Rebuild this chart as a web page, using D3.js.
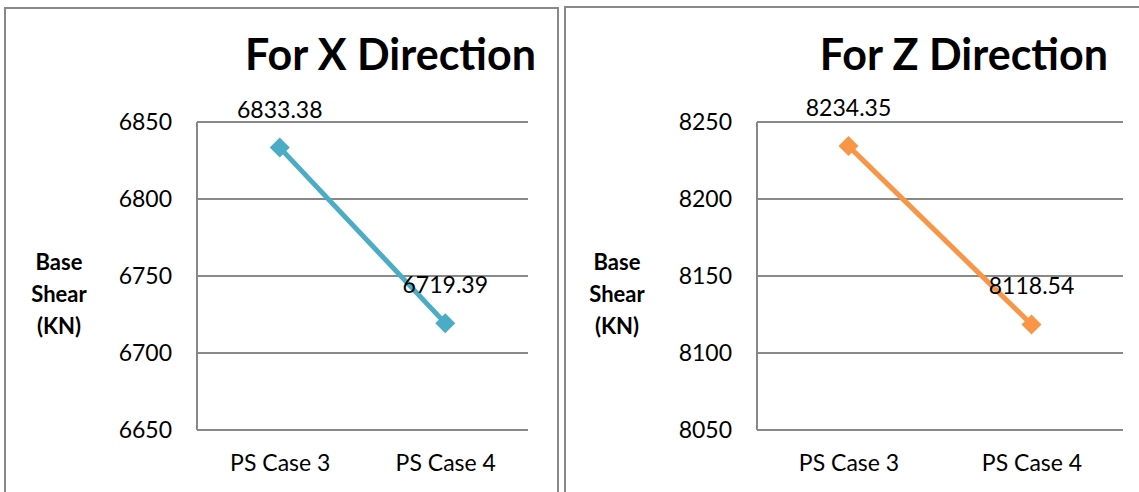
<!DOCTYPE html>
<html>
<head>
<meta charset="utf-8">
<script src="https://cdn.jsdelivr.net/npm/d3@7"></script>
<style>
    body { margin: 0; background: #fff; }
    svg { display: block; font-family: Lato, 'Open Sans', sans-serif; }
    .grid line { stroke: #898989; stroke-width: 2; }
    .axis path, .axis line { stroke: #898989; stroke-width: 2; }
    .axis text { fill: #000; }
</style>
</head>
<body>
<div class="chart-main"></div>
<script>

//////////
// DATA //
//////////

var categories = ['PS Case 3', 'PS Case 4'];
var xDirection = [6833.38, 6719.39];
var zDirection = [8234.35, 8118.54];
var xTicks = [6650, 6700, 6750, 6800, 6850];
var zTicks = [8050, 8100, 8150, 8200, 8250];
var titles = ['For X Direction', 'For Z Direction'];
var yTitle = ['Base', 'Shear', '(KN)'];

//////////////////
// CREATING SVG //
//////////////////

var w = 1139,
    h = 492;

var mainChart = d3.select('.chart-main')
    .append('svg')
    .attr('id', 'mainChart')
    .attr('width', w)
    .attr('height', h);

// panel layout (frame, plot area)
var panels = [
    { values: xDirection, ticks: xTicks, title: titles[0], color: '#4bacc6',
      frame: [5, 8, 553, 500], plot: [197, 122, 528, 430], titleRight: 536, yTitleX: 59 },
    { values: zDirection, ticks: zTicks, title: titles[1], color: '#f79646',
      frame: [565, 7, 600, 500], plot: [757, 122, 1123, 430], titleRight: 1108, yTitleX: 617 }
];

function drawPanel(p) {

    var g = mainChart.append('g');

    // border
    g.append('rect')
        .attr('x', p.frame[0])
        .attr('y', p.frame[1])
        .attr('width', p.frame[2])
        .attr('height', p.frame[3])
        .attr('fill', 'none')
        .attr('stroke', '#898989')
        .attr('stroke-width', 2);

    ////////////
    // SCALES //
    ////////////

    var xScale = d3.scalePoint()
        .domain(categories)
        .range([p.plot[0], p.plot[2]])
        .padding(0.5);

    var yScale = d3.scaleLinear()
        .domain(d3.extent(p.ticks))
        .range([p.plot[3], p.plot[1]]);

    //////////
    // GRID //
    //////////

    g.append('g')
        .attr('class', 'grid')
        .selectAll('line')
        .data(p.ticks.slice(1))
        .enter()
        .append('line')
        .attr('x1', p.plot[0])
        .attr('x2', p.plot[2])
        .attr('y1', function(d) { return yScale(d); })
        .attr('y2', function(d) { return yScale(d); });

    //////////
    // AXIS //
    //////////

    var yAxis = d3.axisLeft(yScale)
        .tickValues(p.ticks)
        .tickSize(0)
        .tickPadding(25)
        .tickFormat(d3.format('d'));

    g.append('g')
        .attr('class', 'axis')
        .attr('transform', 'translate(' + p.plot[0] + ',0)')
        .call(yAxis)
        .call(function(a) { a.select('.domain').attr('d', 'M0,' + p.plot[1] + 'V' + p.plot[3]); })
        .selectAll('text')
        .attr('font-size', 23)
        .attr('font-family', 'Lato')
        .attr('dy', '0.32em');

    var xAxis = d3.axisBottom(xScale)
        .tickSize(0)
        .tickPadding(25);

    g.append('g')
        .attr('class', 'axis')
        .attr('transform', 'translate(0,' + p.plot[3] + ')')
        .call(xAxis)
        .call(function(a) { a.select('.domain').attr('d', 'M' + p.plot[0] + ',0H' + p.plot[2]); })
        .selectAll('text')
        .attr('font-size', 23)
        .attr('font-family', 'Lato');

    ///////////
    // TITLE //
    ///////////

    g.append('text')
        .attr('x', p.titleRight)
        .attr('y', 70)
        .attr('text-anchor', 'end')
        .attr('font-size', 43)
        .attr('font-weight', 'bold')
        .text(p.title);

    g.append('g')
        .selectAll('text')
        .data(yTitle)
        .enter()
        .append('text')
        .attr('x', p.yTitleX)
        .attr('y', function(d, i) { return 270 + i * 32; })
        .attr('text-anchor', 'middle')
        .attr('font-size', 22)
        .attr('font-weight', 'bold')
        .text(function(d) { return d; });

    //////////
    // LINE //
    //////////

    var line = d3.line()
        .x(function(d, i) { return xScale(categories[i]); })
        .y(function(d) { return yScale(d); });

    g.append('path')
        .datum(p.values)
        .attr('d', line)
        .attr('fill', 'none')
        .attr('stroke', p.color)
        .attr('stroke-width', 5);

    g.selectAll('.marker')
        .data(p.values)
        .enter()
        .append('path')
        .attr('class', 'marker')
        .attr('d', d3.symbol().type(d3.symbolSquare).size(200))
        .attr('transform', function(d, i) {
            return 'translate(' + xScale(categories[i]) + ',' + yScale(d) + ') rotate(45)';
        })
        .attr('fill', p.color);

    g.selectAll('.label')
        .data(p.values)
        .enter()
        .append('text')
        .attr('class', 'label')
        .attr('x', function(d, i) { return xScale(categories[i]); })
        .attr('y', function(d) { return yScale(d) - 30; })
        .attr('text-anchor', 'middle')
        .attr('font-size', 23)
        .text(function(d) { return d3.format('.2f')(d); });
}

panels.forEach(drawPanel);

</script>
</body>
</html>
